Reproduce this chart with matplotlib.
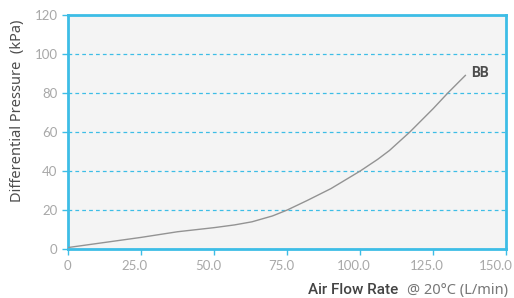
import matplotlib

matplotlib.use("Agg")
import matplotlib.pyplot as plt
from matplotlib.transforms import ScaledTranslation

CYAN = "#3dbde6"
BGAX = "#f4f4f4"
LINE = "#939393"
TICK = "#a8a8a8"
INK = "#4d4d4d"

# data
flow = [0, 25, 37.5, 50, 57, 63, 70, 75, 82, 90, 100, 106, 110, 117, 125, 130, 136]
pressure = [0.8, 6, 8.9, 11, 12.4, 14, 17, 20, 25, 31, 40, 46, 50.5, 60, 72, 80, 89]
series_name = "BB"
xticks = [0, 25, 50, 75, 100, 125, 150]
xticklabels = ["0", "25.0", "50.0", "75.0", "100.0", "125.0", "150.0"]
yticks = [0, 20, 40, 60, 80, 100, 120]

plt.rcParams["font.family"] = ["Noto Sans", "DejaVu Sans"]

fig = plt.figure(figsize=(5.14, 2.98), dpi=100)
ax = fig.add_axes([0.132, 0.164, 0.853, 0.786])
ax.set_facecolor(BGAX)

ax.plot(flow, pressure, color=LINE, linewidth=1.0, zorder=3)
ax.text(flow[-1] + 1.8, pressure[-1] + 1.2, series_name, color=INK,
        fontsize=10, fontweight="bold", family="Roboto", ha="left", va="center")

ax.set_xlim(0, 150)
ax.set_ylim(0, 120)
ax.set_xticks(xticks)
ax.set_xticklabels([])
ax.set_yticks(yticks)
ax.grid(axis="y", color=CYAN, linestyle=(0, (3, 2.5)), linewidth=0.9)
ax.set_axisbelow(True)
for s in ax.spines.values():
    s.set_color(CYAN)
    s.set_linewidth(2)
ax.tick_params(colors=CYAN, labelcolor=TICK, labelsize=9.5, length=4, width=1)
for lab in ax.get_yticklabels():
    lab.set_family("Lato")

# x labels: the reference nudges the decimal ones a little to the left,
# the last one a bit more so it stays inside the picture
trans = ax.get_xaxis_transform()
for i, (xv, txt) in enumerate(zip(xticks, xticklabels)):
    if i == 0:
        dx = 0
    elif i == len(xticks) - 1:
        dx = -0.1
    else:
        dx = -0.06
    t = trans + ScaledTranslation(dx, 0, fig.dpi_scale_trans)
    ax.text(xv, -0.045, txt, transform=t, ha="center", va="top",
            color=TICK, fontsize=9.5, family="Lato", clip_on=False)

ax.set_ylabel("Differential Pressure  (kPa)", color=INK, fontsize=10.5)
ax.yaxis.set_label_coords(-0.098, 0.59)

fig.text(0.775, 0.012, "Air Flow Rate", color="#444444", fontsize=11,
         fontweight="medium", family="Roboto", ha="right", va="baseline")
fig.text(0.988, 0.012, "@ 20°C (L/min)", color="#777777", fontsize=10.5,
         ha="right", va="baseline")

fig.savefig("out.png", dpi=100)
